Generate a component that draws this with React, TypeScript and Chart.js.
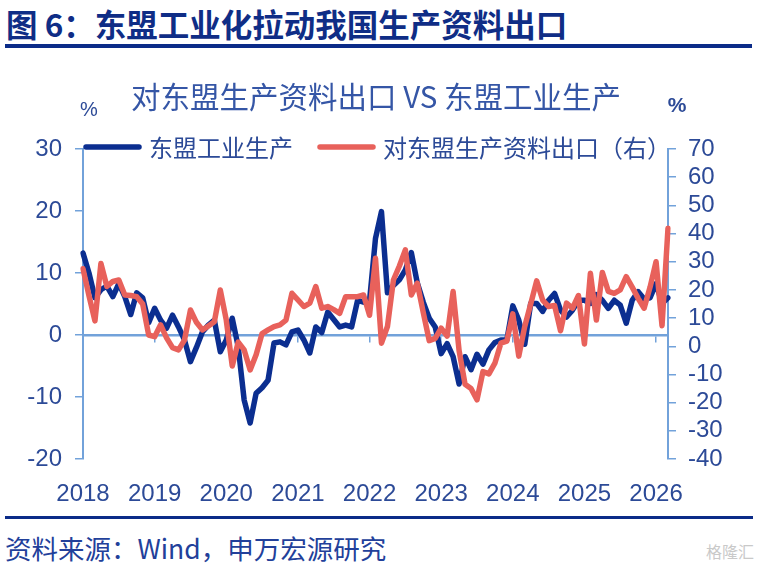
import React, { useEffect, useRef } from 'react';
import { Chart, registerables, type ChartConfiguration, type Plugin } from 'chart.js';

Chart.register(...registerables);

// Monthly categories, Jan 2018 .. Mar 2026
const years = ['2018', '2019', '2020', '2021', '2022', '2023', '2024', '2025', '2026'];
const months = ['01', '02', '03', '04', '05', '06', '07', '08', '09', '10', '11', '12'];
const monthLabels = years.flatMap((y) => months.map((m) => `${y}-${m}`)).slice(0, 99);

// 东盟工业生产, % yoy (left axis)
const aseanIndustry = [
  13.2, 10.0, 6.0, 7.3, 7.9, 6.2, 8.3, 6.2, 3.3, 6.8, 6.0, 2.0,
  4.3, 2.4, 1.1, 3.2, 1.3, -0.8, -4.3, -2.0, 0.5, 1.6, 2.4, -2.7,
  -0.8, 2.7, -1.9, -10.5, -14.2, -9.4, -8.5, -7.3, -1.3, -1.1, -1.6, 0.5,
  0.8, -0.8, -2.9, 1.3, 0.4, 3.7, 2.5, 1.3, 1.6, 1.3, 5.6, 5.3,
  5.5, 15.6, 19.9, 6.8, 8.0, 8.9, 10.5, 13.3, 8.4, 5.3, 2.7, 1.3,
  -3.0, -1.4, -3.5, -7.9, -3.5, -5.6, -3.1, -4.7, -2.4, -1.2, -0.8, -0.8,
  4.7, 2.4, -1.5, 5.1, 5.1, 3.8, 5.6, 6.7, 4.0, 2.9, 4.0, 5.6,
  5.6, 5.1, 6.5, 5.6, 4.3, 5.6, 4.8, 1.9, 5.6, 7.0, 5.8, 6.0,
  8.3, 5.1, 6.0
];

// 对东盟生产资料出口, % yoy (right axis)
const capitalGoodsExports = [
  27.5, 18.0, 9.0, 29.4, 21.2, 23.0, 23.5, 18.2, 18.0, 17.6, 15.0, 4.0,
  3.4, 7.6, 3.0, -0.5, -1.3, 2.2, 12.9, 8.5, 5.8, 7.2, 8.7, 20.0,
  9.3, -7.0, 1.5, -1.3, -8.4, -3.0, 4.5, 5.8, 7.0, 7.6, 9.3, 18.8,
  16.5, 14.1, 15.3, 21.2, 13.5, 14.1, 13.0, 11.7, 17.6, 17.6, 17.6, 18.2,
  11.0, 31.2, 1.1, 7.0, 23.5, 28.5, 34.2, 18.2, 22.4, 12.0, 2.0, 2.8,
  6.4, 3.6, 19.4, -1.5, -13.5, -15.0, -19.0, -9.0, -9.8, -6.0, 1.1, 1.8,
  11.5, -3.5, 7.0, 15.0, 23.2, 16.4, 14.1, 14.5, 5.5, 15.3, 13.5, 18.0,
  0.8, 25.9, 9.3, 26.2, 19.5, 18.8, 20.0, 24.7, 21.0, 17.0, 13.5, 21.0,
  30.0, 7.3, 41.9
];

const seriesNames = ['东盟工业生产', '对东盟生产资料出口（右）'];
const chartTitle = '对东盟生产资料出口 VS 东盟工业生产';

const BLUE = '#0b2e90';
const RED = '#e8615b';
const AXIS = '#72a2da';
const TEXT = '#2c4a97';
const CJK = '"Noto Sans CJK SC", "Noto Sans", sans-serif';
const LATIN = '"Liberation Sans", Arial, sans-serif';

// Legend and unit labels sit on top of the plot, so draw them by hand
const overlayPlugin: Plugin<'line'> = {
  id: 'overlay',
  afterDraw(chart) {
    const { ctx, chartArea } = chart;
    ctx.save();
    ctx.font = `24px ${CJK}`;
    ctx.textBaseline = 'middle';
    ctx.textAlign = 'left';
    const y = chartArea.top - 2;
    let x = chartArea.left + 1;
    const colors = [BLUE, RED];
    seriesNames.forEach((name, i) => {
      ctx.strokeStyle = colors[i];
      ctx.lineWidth = 5.5;
      ctx.lineCap = 'round';
      ctx.beginPath();
      ctx.moveTo(x + 2, y);
      ctx.lineTo(x + 55, y);
      ctx.stroke();
      ctx.fillStyle = TEXT;
      ctx.fillText(name, x + 65, y + 1);
      x += 65 + ctx.measureText(name).width + 25;
    });

    ctx.fillStyle = TEXT;
    ctx.textAlign = 'center';
    ctx.font = `20px ${LATIN}`;
    ctx.fillText('%', chartArea.left + 6, chartArea.top - 39);
    ctx.font = `bold 21px ${LATIN}`;
    ctx.fillText('%', chartArea.right + 9, chartArea.top - 43);
    ctx.restore();
  }
};

const tickFont = { family: LATIN, size: 24 };

const config: ChartConfiguration<'line', number[], string> = {
  type: 'line',
  data: {
    labels: monthLabels,
    datasets: [
      {
        label: seriesNames[0],
        data: aseanIndustry,
        borderColor: BLUE,
        borderWidth: 5.5,
        yAxisID: 'y',
        xAxisID: 'x',
        order: 1
      },
      {
        label: seriesNames[1],
        data: capitalGoodsExports,
        borderColor: RED,
        borderWidth: 5.5,
        yAxisID: 'y1',
        xAxisID: 'x',
        order: 0
      }
    ]
  },
  options: {
    responsive: true,
    maintainAspectRatio: false,
    animation: false,
    layout: { padding: { left: 0, right: 10, top: 0, bottom: 0 } },
    elements: {
      point: { radius: 0, hoverRadius: 0 },
      line: { tension: 0, borderJoinStyle: 'round', borderCapStyle: 'round', fill: false }
    },
    plugins: {
      legend: { display: false },
      tooltip: { enabled: false },
      title: {
        display: true,
        text: chartTitle,
        color: '#3556a6',
        font: { family: CJK, size: 29.5, weight: 'normal', lineHeight: 1.2 },
        padding: { top: 24, bottom: 34.6 }
      }
    },
    scales: {
      // zero line with yearly tick marks
      x: {
        type: 'category',
        position: { y: 0 },
        ticks: { display: false },
        grid: {
          display: true,
          drawOnChartArea: false,
          drawTicks: true,
          tickLength: 6,
          lineWidth: 1.5,
          color: (c) => (c.index % 12 === 0 ? AXIS : 'transparent')
        },
        border: { display: true, color: AXIS, width: 2.5 }
      },
      // year labels along the bottom
      x2: {
        type: 'category',
        position: 'bottom',
        grid: { display: false },
        border: { display: false },
        ticks: {
          autoSkip: false,
          maxRotation: 0,
          padding: 13,
          color: TEXT,
          font: tickFont,
          callback: (_v, i) => (i % 12 === 0 ? monthLabels[i].slice(0, 4) : '')
        },
        afterFit: (scale) => {
          scale.height = 46;
        }
      },
      y: {
        type: 'linear',
        position: 'left',
        min: -20,
        max: 30,
        ticks: { stepSize: 10, autoSkip: false, padding: 13, color: TEXT, font: tickFont },
        grid: {
          drawOnChartArea: false,
          drawTicks: true,
          tickLength: 8,
          lineWidth: 1.5,
          color: AXIS
        },
        border: { display: true, color: AXIS, width: 2 },
        afterFit: (scale) => {
          scale.width = 83;
        }
      },
      y1: {
        type: 'linear',
        position: 'right',
        min: -40,
        max: 70,
        ticks: {
          stepSize: 10,
          maxTicksLimit: 20,
          autoSkip: false,
          padding: 12,
          color: TEXT,
          font: tickFont
        },
        grid: {
          drawOnChartArea: false,
          drawTicks: true,
          tickLength: 8,
          lineWidth: 1.5,
          color: AXIS
        },
        border: { display: true, color: AXIS, width: 2 },
        afterFit: (scale) => {
          scale.width = 84;
        }
      }
    }
  },
  plugins: [overlayPlugin]
};

export default function App() {
  const canvasRef = useRef<HTMLCanvasElement>(null);

  useEffect(() => {
    const ctx = canvasRef.current?.getContext('2d');
    if (!ctx) return;
    const chart = new Chart(ctx, config);
    return () => chart.destroy();
  }, []);

  return (
    <div
      style={{
        position: 'absolute',
        left: 0,
        top: 0,
        width: 762,
        height: 567,
        background: '#fff',
        overflow: 'hidden',
        fontFamily: CJK
      }}
    >
      <div
        style={{
          position: 'absolute',
          left: 6,
          top: 6,
          fontSize: 31.5,
          lineHeight: '35px',
          fontWeight: 700,
          color: '#0f2d86',
          whiteSpace: 'nowrap'
        }}
      >
        图 6：东盟工业化拉动我国生产资料出口
      </div>
      <div style={{ position: 'absolute', left: 5, top: 44, width: 747, height: 4, background: '#0b2b88' }} />
      <div style={{ position: 'absolute', left: 0, top: 55, width: 762, height: 450 }}>
        <canvas ref={canvasRef} />
      </div>
      <div style={{ position: 'absolute', left: 5, top: 516, width: 748, height: 3, background: '#0b2b88' }} />
      <div
        style={{
          position: 'absolute',
          left: 5,
          top: 532,
          fontSize: 26.5,
          lineHeight: '32px',
          color: '#22409a',
          whiteSpace: 'nowrap'
        }}
      >
        资料来源：Wind，申万宏源研究
      </div>
      <div
        style={{
          position: 'absolute',
          left: 706,
          top: 541,
          fontSize: 16,
          lineHeight: '20px',
          color: '#c9c9c9',
          whiteSpace: 'nowrap'
        }}
      >
        格隆汇
      </div>
    </div>
  );
}
